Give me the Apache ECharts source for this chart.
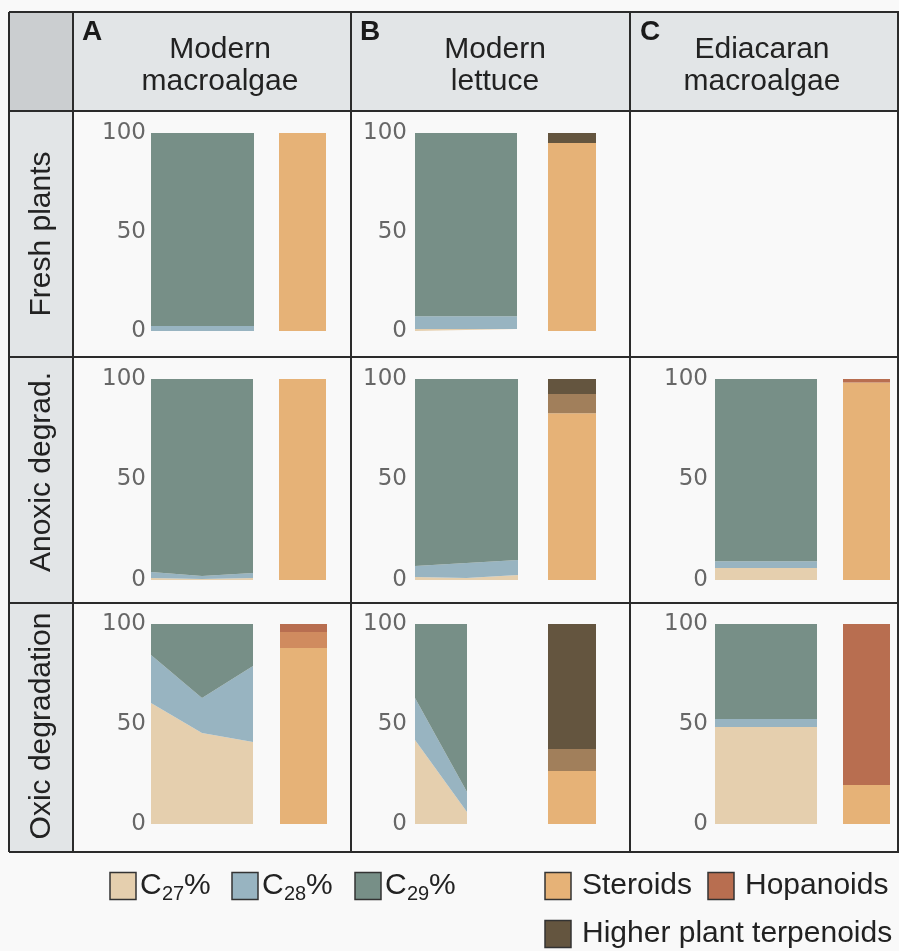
<!DOCTYPE html>
<html>
<head>
<meta charset="utf-8">
<script src="https://cdn.jsdelivr.net/npm/echarts@6/dist/echarts.min.js"></script>
<style>
  html, body { margin: 0; padding: 0; background: #f9f9f9; }
  #chart { width: 899px; height: 951px; }
</style>
</head>
<body>
<div id="chart"></div>
<script>
// ---- labels ----
const columnLetters = ['A', 'B', 'C'];
const columnTitles = [['Modern', 'macroalgae'], ['Modern', 'lettuce'], ['Ediacaran', 'macroalgae']];
const rowTitles = ['Fresh plants', 'Anoxic degrad.', 'Oxic degradation'];
const yTicks = [0, 50, 100];

// ---- sterane carbon-number distribution (%), panels row by row:
// fresh A, B, C / anoxic A, B, C / oxic A, B, C ; null = no sample ----
const c27 = [[0, 0], [1, 1], null, [1, 0.5, 1], [1.5, 1, 2.5], [6, 6], [60.5, 45.5, 41], [42, 6], [48.5, 48.5]];
const c28 = [[2.5, 2.5], [6.5, 6.5], null, [3, 1.5, 2.5], [5.5, 7.5, 7.5], [3.3, 3.3], [24, 17.5, 38], [21, 10], [4, 4]];
const c29 = [[97.5, 97.5], [92.5, 92.5], null, [96, 98, 96.5], [93, 91.5, 90], [90.7, 90.7], [15.5, 37, 21], [37, 84], [47.5, 47.5]];

// ---- biomarker class composition (%), same panel order ----
const steroids            = [100, 95, null, 100, 83,  98.3, 88, 26.5, 19.5];
const steroidTerpenoidMix = [0,   0,  null, 0,   9.5, 0,    0,  11,   0];
const terpenoids          = [0,   5,  null, 0,   7.5, 0,    0,  62.5, 0];
const steroidHopanoidMix  = [0,   0,  null, 0,   0,   0,    8,  0,    0];
const hopanoids           = [0,   0,  null, 0,   0,   1.7,  4,  0,    80.5];

// ---- styling / layout ----
const COL = {
  c27: '#e5cfae', c28: '#98b4c1', c29: '#778f87',
  steroids: '#e6b277', stMix: '#a17f5b', terp: '#64553f',
  shMix: '#d08b5f', hop: '#b86e50'
};
const LINE = '#2b2b2b';
const TXT = '#222222';
const SANS = 'Liberation Sans, Arial, sans-serif';

const rowTop = [133, 379, 624];
const rowBottom = [331, 580, 824];
const areaLeft = [151, 415, 715];
const areaWidth = [103, 102, 0, 102, 103, 102, 102, 52, 102];
const labelMargin = [5, 8, 7];
const barLeft = [279, 548, 843];
const barWidthPx = [47, 48, 47];

const grids = [], xAxes = [], yAxes = [], series = [];

function addPanel(i) {
  const r = Math.floor(i / 3), c = i % 3;
  if (!c27[i]) return;
  const top = rowTop[r], h = rowBottom[r] - rowTop[r];

  // stacked area: sterane distribution
  const ga = grids.length;
  grids.push({ left: areaLeft[c], top: top, width: areaWidth[i], height: h, outerBoundsMode: 'none' });
  xAxes.push({ gridIndex: ga, type: 'category', boundaryGap: false, show: false,
    data: c27[i].map((_, k) => 'pt' + k) });
  yAxes.push({ gridIndex: ga, type: 'value', min: yTicks[0], max: yTicks[yTicks.length - 1], interval: yTicks[1] - yTicks[0],
    axisLine: { show: false }, axisTick: { show: false }, splitLine: { show: false },
    axisLabel: { fontFamily: 'DejaVu Sans', fontSize: 23, color: '#676767', margin: labelMargin[c] } });
  [['C27', c27, COL.c27], ['C28', c28, COL.c28], ['C29', c29, COL.c29]].forEach(([name, arr, color]) => {
    series.push({ name: name, type: 'line', xAxisIndex: ga, yAxisIndex: ga, stack: 'area' + i,
      data: arr[i], symbol: 'none', silent: true, smooth: false,
      lineStyle: { width: 0, color: color }, itemStyle: { color: color },
      areaStyle: { color: color, opacity: 1 } });
  });

  // stacked bar: biomarker classes
  const gb = grids.length;
  grids.push({ left: barLeft[c] + (i === 6 ? 1 : 0), top: top, width: barWidthPx[c], height: h, outerBoundsMode: 'none' });
  xAxes.push({ gridIndex: gb, type: 'category', show: false, data: ['classes'] });
  yAxes.push({ gridIndex: gb, type: 'value', min: 0, max: 100, show: false, splitLine: { show: false } });
  [['Steroids', steroids, COL.steroids], ['Steroid/terpenoid', steroidTerpenoidMix, COL.stMix],
   ['Higher plant terpenoids', terpenoids, COL.terp], ['Steroid/hopanoid', steroidHopanoidMix, COL.shMix],
   ['Hopanoids', hopanoids, COL.hop]].forEach(([name, arr, color]) => {
    if (!arr[i]) return;
    series.push({ name: name, type: 'bar', xAxisIndex: gb, yAxisIndex: gb, stack: 'bar' + i,
      barWidth: '100%', silent: true, data: [arr[i]], itemStyle: { color: color } });
  });
}
for (let i = 0; i < 9; i++) addPanel(i);

// ---- table frame, headers and legend ----
const g = [];
function rect(x, y, w, h, fill, z) {
  g.push({ type: 'rect', z: z || 0, silent: true, shape: { x, y, width: w, height: h }, style: { fill } });
}
function line(x1, y1, x2, y2) {
  g.push({ type: 'line', z: 50, silent: true, shape: { x1, y1, x2, y2 }, style: { stroke: LINE, lineWidth: 2 } });
}
function text(str, x, y, opts) {
  opts = opts || {};
  g.push({ type: 'text', z: 60, silent: true, x: x, y: y, rotation: opts.rotation || 0,
    style: { text: str, x: 0, y: 0, fill: opts.fill || TXT,
      fontSize: opts.size || 30, fontWeight: opts.weight || 'normal', fontFamily: opts.family || SANS,
      align: opts.align || 'center', verticalAlign: opts.valign || 'middle',
      textAlign: opts.align || 'center', textVerticalAlign: opts.valign || 'middle' } });
}

// cell fills
rect(73, 12, 826, 99, '#e2e5e7');
rect(9, 111, 64, 741, '#e2e5e7');
rect(9, 12, 64, 99, '#cbced0');

// grid lines
[12, 111, 357, 603, 852].forEach(y => line(9, y, 899, y));
[9, 73, 351, 630, 898].forEach(x => line(x, 12, x, 852));

// column headers
const letterX = [82, 360, 640];
const titleCenter = [220, 495, 762];
columnLetters.forEach((l, c) => {
  text(l, letterX[c], 32, { size: 28, weight: 'bold', align: 'left', fill: '#1a1a1a' });
  text(columnTitles[c][0], titleCenter[c], 50, { size: 30 });
  text(columnTitles[c][1], titleCenter[c], 82, { size: 30 });
});

// row headers (vertical)
const rowLabelY = [234, 472, 726];
rowTitles.forEach((t, r) => text(t, 42, rowLabelY[r], { size: 30, rotation: Math.PI / 2 }));

// legend
function swatch(x, y, fill) {
  g.push({ type: 'rect', z: 60, silent: true, shape: { x, y, width: 26, height: 27 },
    style: { fill, stroke: '#333', lineWidth: 1.5 } });
}
const legendY = 886;
[[110, '27', COL.c27], [232, '28', COL.c28], [355, '29', COL.c29]].forEach(([x, sub, color]) => {
  swatch(x, legendY - 13.5, color);
  text('C', x + 30, legendY, { align: 'left' });
  text(sub, x + 52, legendY + 8, { align: 'left', size: 20 });
  text('%', x + 74, legendY, { align: 'left' });
});
swatch(545, legendY - 13.5, COL.steroids);
text('Steroids', 582, legendY, { align: 'left' });
swatch(708, legendY - 13.5, COL.hop);
text('Hopanoids', 745, legendY, { align: 'left' });
swatch(545, 934 - 13.5, COL.terp);
text('Higher plant terpenoids', 582, 934, { align: 'left' });

const chart = echarts.init(document.getElementById('chart'), null, { renderer: 'canvas' });
chart.setOption({
  backgroundColor: '#f9f9f9',
  animation: false,
  grid: grids,
  xAxis: xAxes,
  yAxis: yAxes,
  series: series,
  graphic: { elements: g }
});
</script>
</body>
</html>
